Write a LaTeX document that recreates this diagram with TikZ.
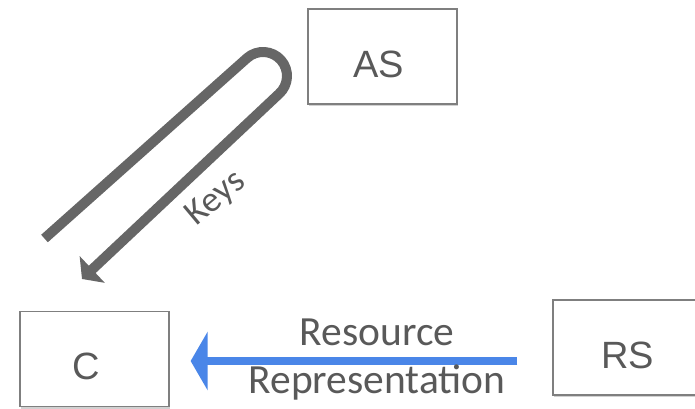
\documentclass[tikz,border=0pt]{standalone}
\usepackage{fontspec}
\setmainfont{Liberation Sans}
\newfontfamily\calibri{Carlito}
\usetikzlibrary{arrows.meta,shadows}
\definecolor{boxgray}{HTML}{7F7F7F}
\definecolor{txtgray}{HTML}{595959}
\definecolor{loopgray}{HTML}{666666}
\definecolor{arrowblue}{HTML}{4A86E8}
\newcommand{\myleftshift}[2]{\kern-#1\relax#2\kern#1\relax}
\begin{document}
\begin{tikzpicture}[x=1pt,y=-1pt,
  agent/.style={draw=boxgray, line width=1.3pt, fill=white,
    minimum width=149pt, minimum height=95pt, inner sep=0pt,
    text height=41.4pt, text depth=0pt, text=txtgray,
    font=\fontsize{38}{40}\selectfont,
    drop shadow={shadow xshift=0.5pt, shadow yshift=-2pt, opacity=0.18, fill=black}},
  lbl/.style={text=txtgray, font=\calibri\fontsize{41.5}{48}\selectfont, inner sep=0pt},
  keylbl/.style={text=txtgray, font=\calibri\fontsize{36}{40}\selectfont, inner sep=0pt},
  keyflow/.style={draw=loopgray, line width=10pt, line join=round,
    -{Triangle[length=14pt,width=36pt]}},
  dataflow/.style={draw=arrowblue, line width=8pt,
    -{Triangle[length=17pt,width=58pt]}}]
\useasboundingbox (0,0) rectangle (695,408);

% agents
\node[agent] (AS) at (382.5,56.5) {\myleftshift{4pt}{AS}};
\node[agent] (C)  at (94.5,359)   {\myleftshift{8pt}{C}};
\node[agent] (RS) at (627.5,347.5) {RS};

% resource representation flow
\coordinate (flowy) at (0,361);
\draw[dataflow, shorten <=35pt, shorten >=21pt] (RS.west |- flowy) -- (C.east |- flowy);
\node[lbl, anchor=base] (res1) at (377,345) {Resource};
\node[lbl, anchor=base] (res2) at (377,393) {Representation};

% keys loop
\coordinate (keysfrom) at (44.5,238.5);
\coordinate (loopstart) at (247.1,58);
\coordinate (keysto) at (82,279);
\draw[keyflow] (keysfrom) -- (loopstart)
  arc[start angle=131.5, end angle=-48.5, radius=24pt] -- (keysto);
\node[keylbl, rotate=40] (keys) at (216,199) {Keys};
\end{tikzpicture}
\end{document}
